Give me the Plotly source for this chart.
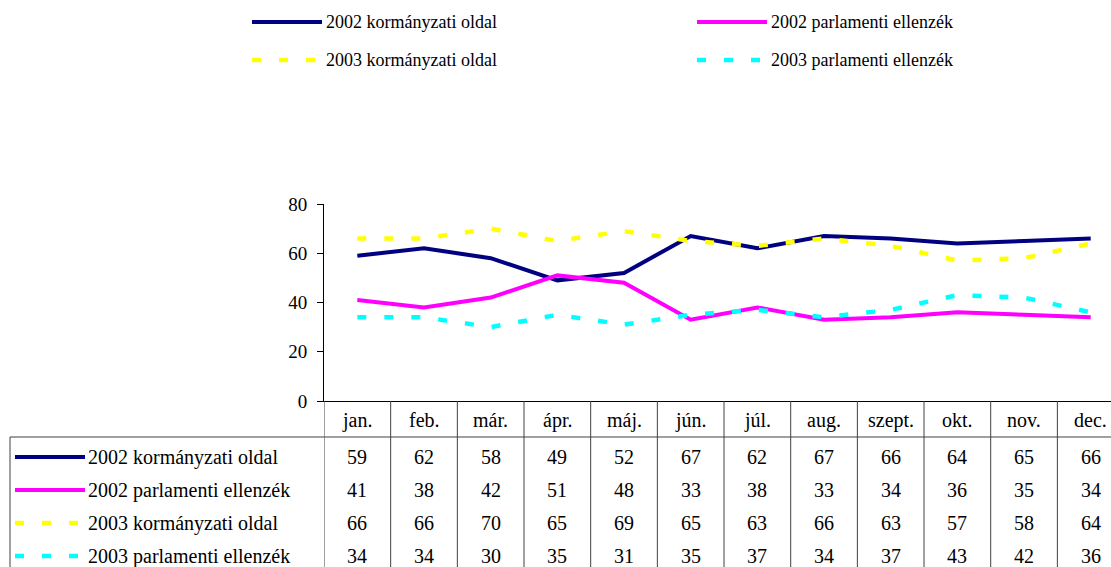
import plotly.graph_objects as go

months = ["jan.", "feb.", "már.", "ápr.", "máj.", "jún.", "júl.", "aug.", "szept.", "okt.", "nov.", "dec."]
series_names = ["2002 kormányzati oldal", "2002 parlamenti ellenzék",
                "2003 kormányzati oldal", "2003 parlamenti ellenzék"]
korm_2002 = [59, 62, 58, 49, 52, 67, 62, 67, 66, 64, 65, 66]
ellenzek_2002 = [41, 38, 42, 51, 48, 33, 38, 33, 34, 36, 35, 34]
korm_2003 = [66, 66, 70, 65, 69, 65, 63, 66, 63, 57, 58, 64]
ellenzek_2003 = [34, 34, 30, 35, 31, 35, 37, 34, 37, 43, 42, 36]
y_ticks = [0, 20, 40, 60, 80]

values = [korm_2002, ellenzek_2002, korm_2003, ellenzek_2003]
colors = ["#000080", "#FF00FF", "#FFFF00", "#00FFFF"]
dashes = ["solid", "solid", "9px,18px", "9px,18px"]
widths = [4, 4, 4.5, 4.5]

W, H = 1111, 567
L, R, T, B = 324, 0, 204, 166
PW, PH = W - L - R, H - T - B
COL = 66.67  # pixel width of one month column


def px(x):
    return (x - L) / PW


def py(y):
    return (H - B - y) / PH


FONT = "Liberation Serif"
fig = go.Figure()
for name, vals, c, d, w in zip(series_names, values, colors, dashes, widths):
    fig.add_trace(go.Scatter(x=list(range(len(months))), y=vals, mode="lines", name=name,
                             line=dict(color=c, width=w, dash=d), showlegend=False,
                             hovertemplate="%{text}: %{y}<extra>" + name + "</extra>",
                             text=months))

shapes = []
annotations = []

# top legend (2 columns x 2 rows)
leg_pos = [(252, 22), (697, 22), (252, 60), (697, 60)]
for (lx, ly), name, c, d, w in zip(leg_pos, series_names, colors, dashes, widths):
    shapes.append(dict(type="line", xref="paper", yref="paper", x0=px(lx), x1=px(lx + 70),
                       y0=py(ly), y1=py(ly), line=dict(color=c, width=w, dash=d)))
    annotations.append(dict(text=name, xref="paper", yref="paper", x=px(lx + 72), y=py(ly),
                            xanchor="left", yanchor="middle", showarrow=False,
                            font=dict(family=FONT, size=18, color="black")))

# data table grid
grid_col = "#404040"
n = len(months)
for i in range(n + 1):
    shapes.append(dict(type="line", xref="x", yref="paper", x0=i - 0.5, x1=i - 0.5,
                       y0=0, y1=py(H + 5), line=dict(color=grid_col, width=1)))
shapes.append(dict(type="line", xref="paper", yref="paper", x0=px(10), x1=1.0,
                   y0=py(437), y1=py(437), line=dict(color=grid_col, width=1)))
shapes.append(dict(type="line", xref="paper", yref="paper", x0=px(10), x1=px(10),
                   y0=py(437), y1=py(H + 5), line=dict(color=grid_col, width=1)))

# header row: month names
for i, m in enumerate(months):
    annotations.append(dict(text=m, xref="x", yref="paper", x=i, y=py(420),
                            xanchor="center", yanchor="middle", showarrow=False,
                            font=dict(family=FONT, size=20, color="black")))

# table rows
row_y = [457, 490, 523, 556]
for ry, name, vals, c, d, w in zip(row_y, series_names, values, colors, dashes, widths):
    shapes.append(dict(type="line", xref="paper", yref="paper", x0=px(15), x1=px(85),
                       y0=py(ry), y1=py(ry), line=dict(color=c, width=w, dash=d)))
    annotations.append(dict(text=name, xref="paper", yref="paper", x=px(86), y=py(ry),
                            xanchor="left", yanchor="middle", showarrow=False,
                            font=dict(family=FONT, size=20, color="black")))
    for i, v in enumerate(vals):
        annotations.append(dict(text=str(v), xref="x", yref="paper", x=i, y=py(ry),
                                xanchor="center", yanchor="middle", showarrow=False,
                                font=dict(family=FONT, size=20, color="black")))

fig.update_layout(
    width=W, height=H,
    margin=dict(l=L, r=R, t=T, b=B, pad=0),
    paper_bgcolor="white", plot_bgcolor="white",
    showlegend=False,
    shapes=shapes, annotations=annotations,
    xaxis=dict(range=[-0.5, -0.5 + PW / COL], showgrid=False, zeroline=False,
               showticklabels=False, ticks="", showline=True, linecolor="black", linewidth=1),
    yaxis=dict(range=[0, 80], tickvals=y_ticks, showgrid=False, zeroline=False,
               ticks="outside", ticklen=6, tickcolor="black", tickwidth=1,
               showline=True, linecolor="black", linewidth=1, ticklabelstandoff=6,
               tickfont=dict(family=FONT, size=19, color="black")),
)

fig.write_html("out.html", config={"displayModeBar": False},
               post_script="document.body.style.margin='0';document.body.style.padding='0';"
                           "document.body.style.overflow='hidden';")
